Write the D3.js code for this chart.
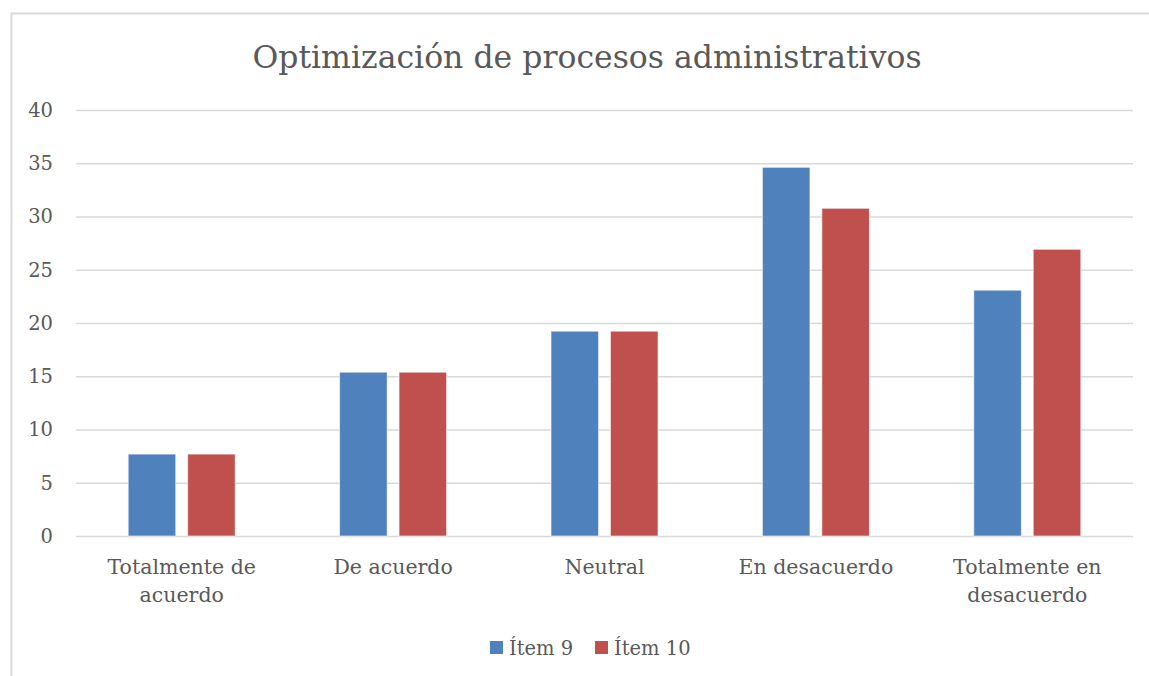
<!DOCTYPE html>
<html>
<head>
<meta charset="utf-8">
<script src="https://cdn.jsdelivr.net/npm/d3@7"></script>
<style>
  body { margin: 0; background: #fff; }
  svg text { font-family: "DejaVu Serif", serif; fill: #595959; }
</style>
</head>
<body>
<svg id="chart" width="1149" height="676"></svg>
<script>
// data
const categories = ["Totalmente de acuerdo", "De acuerdo", "Neutral", "En desacuerdo", "Totalmente en desacuerdo"];
const seriesNames = ["Ítem 9", "Ítem 10"];
const item9 = [7.69, 15.38, 19.23, 34.62, 23.08];
const item10 = [7.69, 15.38, 19.23, 30.77, 26.92];
const yTicks = [0, 5, 10, 15, 20, 25, 30, 35, 40];
const colors = ["#4F81BD", "#C0504D"];

const svg = d3.select("#chart");
const width = 1149;
const height = 676;

// chart frame (only left and top edge are visible)
svg.append("path")
  .attr("d", "M11.5,676 V13.5 H1149")
  .attr("fill", "none")
  .attr("stroke", "#D9D9D9")
  .attr("stroke-width", 2);

const margin = { top: 110, right: 16, bottom: 140, left: 76 };
const innerWidth = width - margin.left - margin.right;
const innerHeight = height - margin.top - margin.bottom;

const g = svg.append("g")
  .attr("transform", `translate(${margin.left},${margin.top})`);

const xScale = d3.scaleBand()
  .domain(categories)
  .range([0, innerWidth]);

const yScale = d3.scaleLinear()
  .domain([0, 40])
  .range([innerHeight, 0]);

// bar width and gap like excel (gap width ~220%, overlap -25%)
const barW = xScale.bandwidth() * 0.225;
const barGap = barW * 0.25;
const xSub = d3.scaleOrdinal()
  .domain(seriesNames)
  .range([-barGap / 2 - barW, barGap / 2]);

// gridlines
g.append("g")
  .call(d3.axisLeft(yScale).tickValues(yTicks).tickSize(-innerWidth).tickFormat(""))
  .call(a => a.select(".domain").remove())
  .call(a => a.selectAll("text").remove())
  .selectAll("line")
  .attr("stroke", "#D9D9D9")
  .attr("stroke-width", 1.5);

// y tick labels
g.append("g")
  .call(d3.axisLeft(yScale).tickValues(yTicks).tickSize(0).tickPadding(23))
  .call(a => a.select(".domain").remove())
  .selectAll("text")
  .attr("font-size", 19.5)
  .attr("font-family", "DejaVu Serif")
  .attr("fill", "#595959");

const rows = categories.map((c, i) => ({ cat: c, values: [item9[i], item10[i]] }));

const groups = g.selectAll(".grp")
  .data(rows)
  .enter()
  .append("g")
  .attr("class", "grp")
  .attr("transform", d => `translate(${xScale(d.cat) + xScale.bandwidth() / 2},0)`);

groups.selectAll("rect")
  .data(d => d.values.map((v, j) => ({ name: seriesNames[j], value: v, j: j })))
  .enter()
  .append("rect")
  .attr("x", d => xSub(d.name))
  .attr("y", d => yScale(d.value))
  .attr("width", barW)
  .attr("height", d => innerHeight - yScale(d.value))
  .attr("fill", d => colors[d.j])
  .attr("stroke", "#fff")
  .attr("stroke-opacity", 0.6)
  .attr("stroke-width", 1);

// wrap category names like excel does (measure first, then one text per line)
const measure = svg.append("text").attr("font-size", 20.5);
const wrap = label => {
  const words = label.split(" ");
  const lines = [];
  let line = [];
  words.forEach(w => {
    line.push(w);
    measure.text(line.join(" "));
    if (measure.node().getComputedTextLength() > 185 && line.length > 1) {
      line.pop();
      lines.push(line.join(" "));
      line = [w];
    }
  });
  lines.push(line.join(" "));
  return lines;
};

groups.each(function(d) {
  const lines = wrap(d.cat);
  d3.select(this).selectAll(".xlab")
    .data(lines)
    .enter()
    .append("text")
    .attr("class", "xlab")
    .attr("x", 0)
    .attr("y", (l, k) => innerHeight + 38 + k * 28)
    .attr("text-anchor", "middle")
    .attr("font-size", 20.5)
    .text(l => l);
});
measure.remove();

// title
svg.append("text")
  .attr("x", 587)
  .attr("y", 68)
  .attr("text-anchor", "middle")
  .attr("font-size", 31.5)
  .text("Optimización de procesos administrativos");

// legend
const legend = svg.append("g")
  .attr("transform", "translate(490,641)");

const legendX = [0, 105];
seriesNames.forEach((s, i) => {
  const lg = legend.append("g").attr("transform", `translate(${legendX[i]},0)`);
  lg.append("rect")
    .attr("width", 13)
    .attr("height", 13)
    .attr("fill", colors[i]);
  lg.append("text")
    .attr("x", 19)
    .attr("y", 14)
    .attr("font-size", 19.5)
    .text(s);
});
</script>
</body>
</html>
